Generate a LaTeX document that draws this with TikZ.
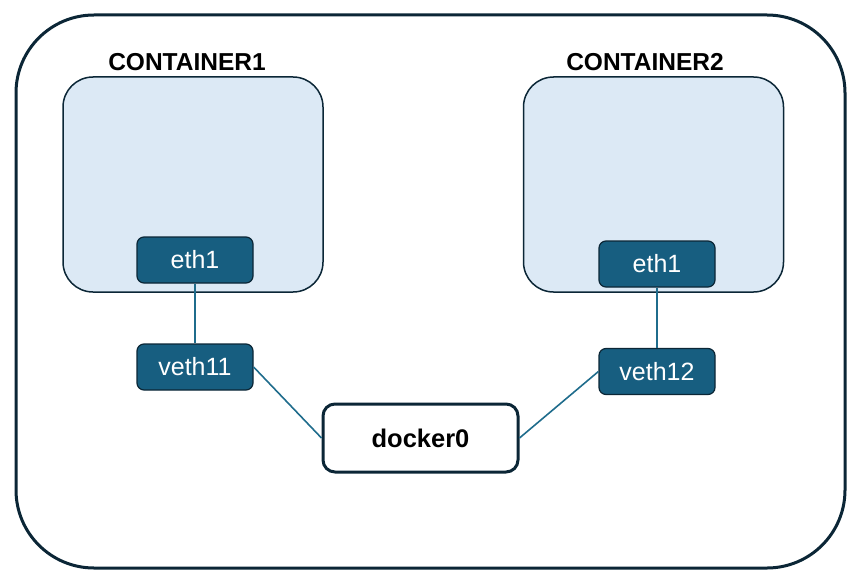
\documentclass[tikz,border=0pt]{standalone}
\usepackage{fontspec}
\setmainfont{Liberation Sans}

\definecolor{navy}{HTML}{0B2636}
\definecolor{paleblue}{HTML}{DCE9F5}
\definecolor{ifaceblue}{HTML}{175E80}
\definecolor{linkblue}{HTML}{1F6C8C}

\tikzset{
  host-box/.style={draw=navy, line width=3pt, rounded corners=78pt},
  container-box/.style={draw=navy, line width=1.5pt, fill=paleblue, rounded corners=30pt,
    minimum width=260pt, minimum height=215pt},
  container-label/.style={font=\bfseries\fontsize{24.5}{26}\selectfont},
  iface-box/.style={draw=navy, line width=1.2pt, fill=ifaceblue, text=white, rounded corners=7pt,
    minimum width=116pt, minimum height=46pt, inner sep=0pt, font=\fontsize{25}{26}\selectfont},
  bridge-box/.style={draw=navy, line width=3pt, fill=white, rounded corners=12pt,
    minimum width=195pt, minimum height=68pt, font=\bfseries\fontsize{25.5}{26}\selectfont},
  veth-link/.style={draw=linkblue, line width=1.6pt}
}

\begin{document}
\begin{tikzpicture}[x=1pt, y=-1pt]
\useasboundingbox (0,0) rectangle (856,583);
\draw[host-box] (16,15) rectangle (845,568);

\node[container-box] (container1) at (193,184.5) {};
\node[container-box] (container2) at (653.5,184.5) {};
\node[container-label] (container1-label) at (187,62) {CONTAINER1};
\node[container-label] (container2-label) at (645,62) {CONTAINER2};

\node[iface-box] (eth1-left) at (195,260) {eth1};
\node[iface-box] (eth1-right) at (657,264) {eth1};
\node[iface-box] (veth11) at (195,367) {veth11};
\node[iface-box] (veth12) at (657,371.5) {veth12};

\node[bridge-box] (docker0) at (420.5,438) {docker0};

\draw[veth-link] (eth1-left) -- (veth11);
\draw[veth-link] (eth1-right) -- (veth12);
\draw[veth-link] (veth11.east) -- (docker0.west);
\draw[veth-link] (veth12.west) -- (docker0.east);
\end{tikzpicture}
\end{document}
